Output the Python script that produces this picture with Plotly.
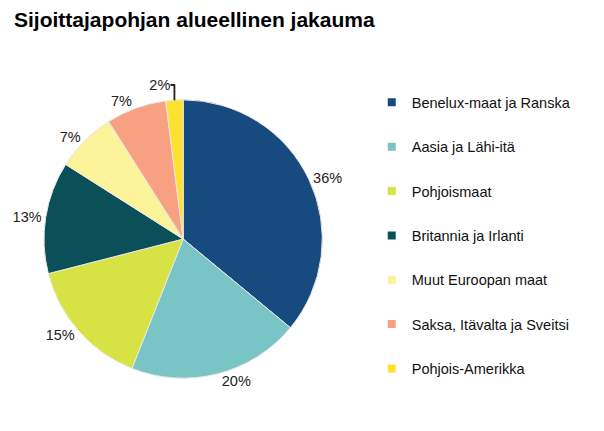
import plotly.graph_objects as go

# data
regions = ["Benelux-maat ja Ranska", "Aasia ja Lähi-itä", "Pohjoismaat",
           "Britannia ja Irlanti", "Muut Euroopan maat",
           "Saksa, Itävalta ja Sveitsi", "Pohjois-Amerikka"]
shares = [36, 20, 15, 13, 7, 7, 2]
colors = ["#174a7e", "#79c5c6", "#d7e244", "#0b4f59",
          "#fdf39a", "#f8a082", "#fde12e"]

fig = go.Figure()

fig.add_trace(go.Pie(
    labels=regions, values=shares, sort=False,
    direction="clockwise", rotation=0,
    marker=dict(colors=colors, line=dict(color="#e8e8e8", width=1)),
    textinfo="percent", textposition="outside",
    outsidetextfont=dict(family="Liberation Sans, Arial", size=14.5, color="#222"),
    domain=dict(x=[0, 0.49], y=[0.131, 0.797]),
    showlegend=False, hoverinfo="label+percent",
))

# legend entries as separate traces so the row spacing can be set
for name, col in zip(regions, colors):
    fig.add_trace(go.Scatter(
        x=[None], y=[None], mode="markers", name=name, legendgroup=name,
        marker=dict(symbol="square", size=8, color=col),
    ))

fig.update_layout(
    width=604, height=431,
    margin=dict(l=0, r=0, t=0, b=0),
    paper_bgcolor="white", plot_bgcolor="white",
    title=dict(text="<b>Sijoittajapohjan alueellinen jakauma</b>",
               x=0.01, xanchor="left", y=0.99, yanchor="top",
               font=dict(family="Liberation Sans, Arial", size=21, color="#000")),
    font=dict(family="Liberation Sans, Arial", size=14.5, color="#111"),
    xaxis=dict(visible=False), yaxis=dict(visible=False),
    legend=dict(x=0.577, xanchor="left", y=0.818, yanchor="top",
                tracegroupgap=22.5, itemclick=False,
                font=dict(size=14.5)),
)

fig.write_html("out.html")
